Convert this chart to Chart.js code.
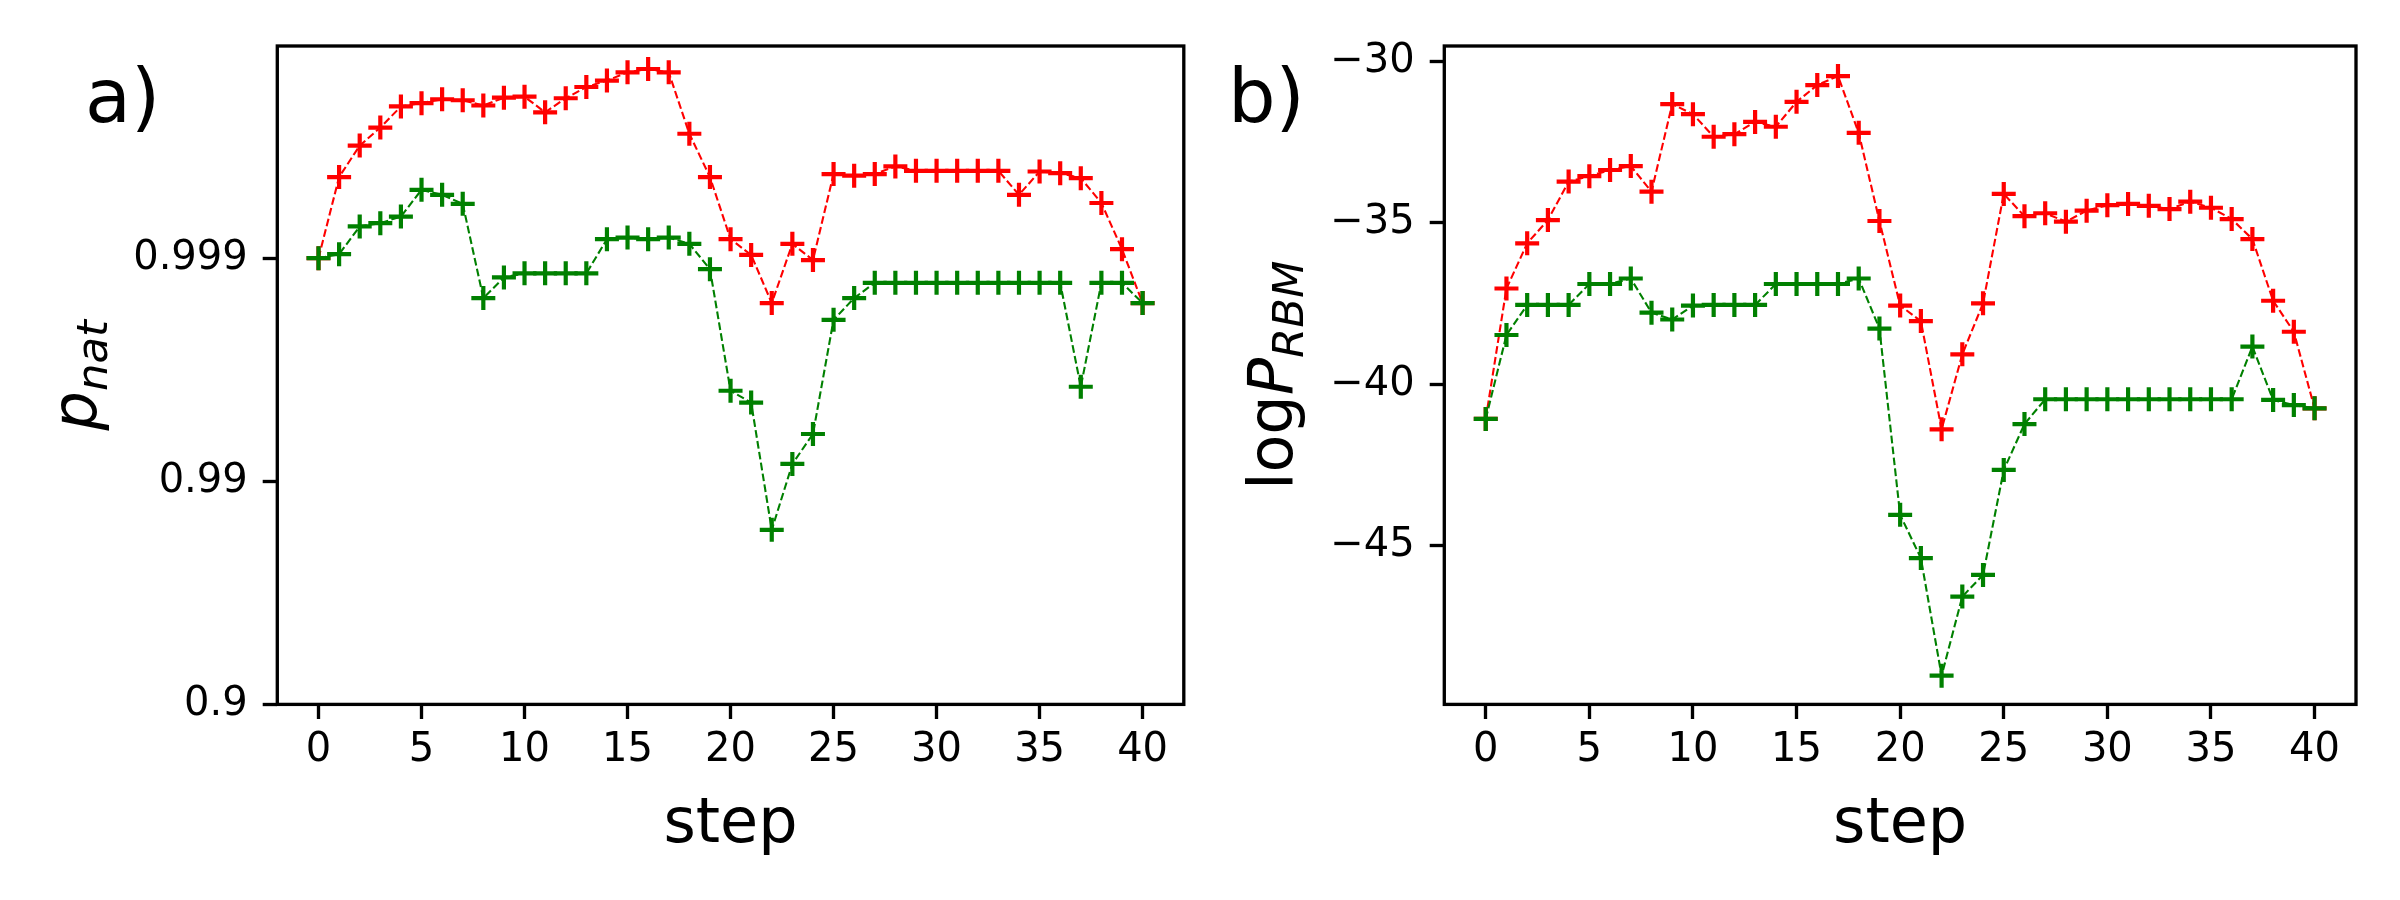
<!DOCTYPE html>
<html>
<head>
<meta charset="utf-8">
<script src="https://cdn.jsdelivr.net/npm/chart.js@4.4.1/dist/chart.umd.min.js"></script>
<style>
  html, body { margin: 0; padding: 0; background: #fff; }
  body { width: 2400px; height: 900px; position: relative; overflow: hidden; }
  canvas { position: absolute; top: 0; }
  #cA { left: 0; }
  #cB { left: 1200px; }
</style>
</head>
<body>
<canvas id="cA" width="1200" height="900" style="width:1200px;height:900px"></canvas>
<canvas id="cB" width="1200" height="900" style="width:1200px;height:900px"></canvas>
<script>
// ---------------- data ----------------
const steps = [0,1,2,3,4,5,6,7,8,9,10,11,12,13,14,15,16,17,18,19,20,
               21,22,23,24,25,26,27,28,29,30,31,32,33,34,35,36,37,38,39,40];

// panel a) p_nat (red and green series)
const pnatRed = [0.999, 0.999567, 0.999687, 0.99974, 0.999791, 0.999798, 0.999806, 0.999804, 0.999793, 0.999809,
                 0.999811, 0.999778, 0.999808, 0.999829, 0.99984, 0.999853, 0.999858, 0.999853, 0.999723, 0.999567,
                 0.999178, 0.999033, 0.99841, 0.999137, 0.99898, 0.99958, 0.999573, 0.99958, 0.999612, 0.999594,
                 0.999594, 0.999594, 0.999594, 0.999594, 0.99948, 0.999591, 0.999584, 0.999562, 0.999434, 0.999088,
                 0.99841];
const pnatGreen = [0.999, 0.99904, 0.999279, 0.999303, 0.999349, 0.999506, 0.99948, 0.999429, 0.99849, 0.99878,
                   0.99883, 0.99883, 0.99883, 0.99883, 0.999178, 0.999191, 0.999178, 0.999191, 0.999137, 0.99888,
                   0.99607, 0.99556, 0.98349, 0.99164, 0.99386, 0.99811, 0.99849, 0.99871, 0.99871, 0.99871,
                   0.99871, 0.99871, 0.99871, 0.99871, 0.99871, 0.99871, 0.99871, 0.99623, 0.99871, 0.99871,
                   0.99841];

// panel b) log P_RBM
const logRed = [-41.07, -37.03, -35.63, -34.91, -33.72, -33.55, -33.36, -33.24, -34.03, -31.32,
                -31.63, -32.33, -32.25, -31.87, -32.02, -31.25, -30.73, -30.45, -32.21, -34.94,
                -37.56, -38.04, -41.39, -39.07, -37.49, -34.10, -34.79, -34.70, -34.96, -34.62,
                -34.45, -34.41, -34.47, -34.57, -34.34, -34.53, -34.88, -35.50, -37.41, -38.37,
                -40.74];
const logGreen = [-41.07, -38.47, -37.54, -37.54, -37.54, -36.89, -36.89, -36.72, -37.78, -37.99,
                  -37.56, -37.54, -37.54, -37.54, -36.89, -36.89, -36.89, -36.89, -36.72, -38.27,
                  -44.04, -45.38, -49.02, -46.57, -45.90, -42.65, -41.23, -40.46, -40.46, -40.46,
                  -40.46, -40.46, -40.46, -40.46, -40.46, -40.46, -40.46, -38.83, -40.48, -40.64,
                  -40.74];

// ticks
const xTicks = [0, 5, 10, 15, 20, 25, 30, 35, 40];
const xTickLabels = ['0', '5', '10', '15', '20', '25', '30', '35', '40'];
const pnatTickLabels = ['0.9', '0.99', '0.999'];
const pnatTickValues = [0.9, 0.99, 0.999];
const logTickValues = [-45, -40, -35, -30];
const logTickLabels = ['\u221245', '\u221240', '\u221235', '\u221230'];

// texts
const panelLabels = ['a)', 'b)'];
const xTitle = 'step';
const yTitleA = [{t: 'p', it: true, sub: false}, {t: 'nat', it: true, sub: true}];
const yTitleB = [{t: 'log', it: false, sub: false}, {t: 'P', it: true, sub: false}, {t: 'RBM', it: true, sub: true}];

const RED = '#ff0000';
const GREEN = '#008000';

// ---------------- helpers ----------------
const FONT = '"DejaVu Sans", "Liberation Sans", sans-serif';
const LW = 3.33;

const framePlugin = {
  id: 'frame',
  afterDatasetsDraw(chart) {
    const {ctx, chartArea: a} = chart;
    ctx.save();
    ctx.strokeStyle = '#000';
    ctx.lineWidth = LW;
    ctx.strokeRect(a.left, a.top, a.right - a.left, a.bottom - a.top);
    ctx.restore();
  }
};

const textPlugin = {
  id: 'texts',
  afterDraw(chart, args, o) {
    const {ctx, chartArea: a} = chart;
    ctx.save();
    ctx.fillStyle = '#000';
    ctx.textBaseline = 'alphabetic';
    // panel label
    ctx.textAlign = 'left';
    ctx.font = '75px ' + FONT;
    ctx.fillText(o.panel, o.panelX, o.panelY);
    // x title
    ctx.textAlign = 'center';
    ctx.font = '62px ' + FONT;
    ctx.fillText(o.xTitle, (a.left + a.right) / 2, o.xTitleY);
    // y title (rotated, mathtext-like)
    ctx.textAlign = 'left';
    const parts = o.yTitle.map(p => {
      const size = p.sub ? 43.4 : 62;
      const font = (p.it ? 'italic ' : '') + size + 'px ' + FONT;
      ctx.font = font;
      return {t: p.t, font, w: ctx.measureText(p.t).width, sub: p.sub};
    });
    const total = parts.reduce((s, p) => s + p.w, 0);
    ctx.translate(o.yTitleX, (a.top + a.bottom) / 2);
    ctx.rotate(-Math.PI / 2);
    let x = -total / 2;
    for (const p of parts) {
      ctx.font = p.font;
      ctx.fillText(p.t, x, p.sub ? 11 : 0);
      x += p.w;
    }
    ctx.restore();
  }
};

function tickFont() { return {family: FONT, size: 40}; }

function makeXScale() {
  return {
    type: 'linear',
    min: -2, max: 42,
    afterFit(s) { s.height = 900 - 704.4; },
    afterBuildTicks(s) { s.ticks = xTicks.map(v => ({value: v})); },
    ticks: {
      autoSkip: false, maxRotation: 0, minRotation: 0,
      padding: 8, color: '#000', font: tickFont(),
      callback: (v, i) => xTickLabels[i]
    },
    grid: {display: true, drawOnChartArea: false, drawTicks: true, tickLength: 14.6, tickWidth: LW, tickColor: '#000'},
    border: {display: false},
    title: {display: false}
  };
}

function lineDataset(xs, ys, color) {
  return {
    data: xs.map((x, i) => ({x: x, y: ys[i]})),
    borderColor: color,
    backgroundColor: color,
    borderWidth: 2.1,
    borderDash: [7.7, 3.3],
    fill: false,
    tension: 0,
    pointStyle: 'cross',
    pointRadius: 12,
    pointBorderWidth: 4.2,
    pointBorderColor: color,
    pointBackgroundColor: color,
    pointHoverRadius: 12
  };
}

const common = {
  responsive: false,
  maintainAspectRatio: false,
  devicePixelRatio: 1,
  animation: false,
  events: [],
  plugins: {legend: {display: false}, tooltip: {enabled: false}, title: {display: false}}
};

// ---------------- chart a) ----------------
new Chart(document.getElementById('cA'), {
  type: 'line',
  data: {
    datasets: [
      lineDataset(steps, pnatGreen.map(p => 1 - p), GREEN),
      lineDataset(steps, pnatRed.map(p => 1 - p), RED)
    ]
  },
  options: Object.assign({}, common, {
    layout: {padding: {left: 0, right: 14, top: 46, bottom: 0}},
    scales: {
      x: makeXScale(),
      y: {
        type: 'logarithmic',
        reverse: true,
        min: 1.12e-4, max: 0.1,
        afterFit(s) { s.width = 277.3; },
        afterBuildTicks(s) { s.ticks = pnatTickValues.map(v => ({value: 1 - v})); },
        ticks: {
          autoSkip: false, padding: 15, color: '#000', font: tickFont(),
          callback: (v, i) => pnatTickLabels[i]
        },
        grid: {display: true, drawOnChartArea: false, drawTicks: true, tickLength: 14.6, tickWidth: LW, tickColor: '#000'},
        border: {display: false},
        title: {display: false}
      }
    },
    plugins: Object.assign({}, common.plugins, {
      texts: {panel: panelLabels[0], panelX: 85, panelY: 121.5, xTitle: xTitle, xTitleY: 841.7, yTitle: yTitleA, yTitleX: 95.7}
    })
  }),
  plugins: [framePlugin, textPlugin]
});

// ---------------- chart b) ----------------
new Chart(document.getElementById('cB'), {
  type: 'line',
  data: {
    datasets: [
      lineDataset(steps, logGreen, GREEN),
      lineDataset(steps, logRed, RED)
    ]
  },
  options: Object.assign({}, common, {
    layout: {padding: {left: 0, right: 44, top: 46, bottom: 0}},
    scales: {
      x: makeXScale(),
      y: {
        type: 'linear',
        min: -49.91, max: -29.52,
        afterFit(s) { s.width = 244.3; },
        afterBuildTicks(s) { s.ticks = logTickValues.map(v => ({value: v})); },
        ticks: {
          autoSkip: false, padding: 15, color: '#000', font: tickFont(),
          callback: (v, i) => logTickLabels[i]
        },
        grid: {display: true, drawOnChartArea: false, drawTicks: true, tickLength: 14.6, tickWidth: LW, tickColor: '#000'},
        border: {display: false},
        title: {display: false}
      }
    },
    plugins: Object.assign({}, common.plugins, {
      texts: {panel: panelLabels[1], panelX: 28, panelY: 121.5, xTitle: xTitle, xTitleY: 841.7, yTitle: yTitleB, yTitleX: 92}
    })
  }),
  plugins: [framePlugin, textPlugin]
});
</script>
</body>
</html>
